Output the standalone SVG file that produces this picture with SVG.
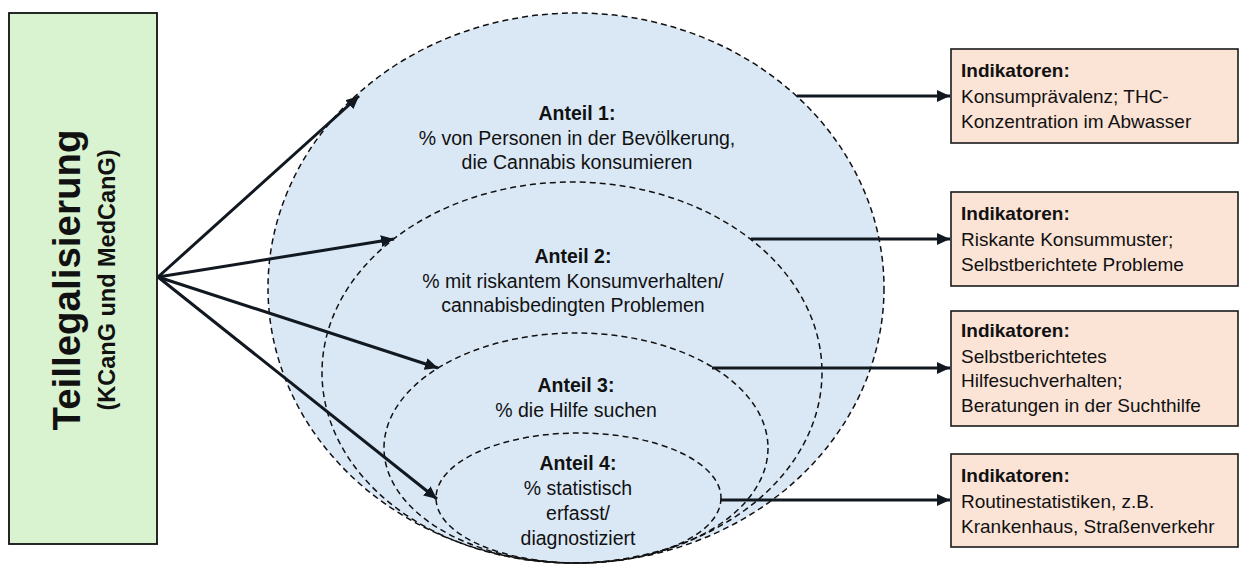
<svg xmlns="http://www.w3.org/2000/svg" width="1244" height="570" viewBox="0 0 1244 570">
<style>
  text { font-family: "Liberation Sans", Arial, sans-serif; fill: #111; }
  .t { font-size: 19px; }
  .e { font-size: 19.5px; }
  .b { font-weight: bold; }
  .c { text-anchor: middle; }
  .ell { fill: none; stroke: #111; stroke-width: 1.5; stroke-dasharray: 6 4; }
  .box { fill: #fbe3d6; stroke: #1a1a1a; stroke-width: 1.6; }
  .arr { stroke: #111820; stroke-width: 3; fill: none; marker-end: url(#ah); }
</style>
<defs>
  <marker id="ah" markerUnits="userSpaceOnUse" markerWidth="14" markerHeight="12" refX="13" refY="6" orient="auto">
    <path d="M0,0 L13,6 L0,12 Z" fill="#111820"/>
  </marker>
</defs>
<rect width="1244" height="570" fill="#ffffff"/>

<g id="source">
  <rect x="9" y="13" width="148" height="531" fill="#d9f2d0" stroke="#111" stroke-width="1.8"/>
  <text class="b c" transform="translate(80,280) rotate(-90)" font-size="38.5">Teillegalisierung</text>
  <text class="b c" transform="translate(115,280) rotate(-90)" font-size="23.5">(KCanG und MedCanG)</text>
</g>

<g id="anteil1">
  <ellipse cx="576" cy="288" rx="308" ry="275" fill="#dae8f6" stroke="#111" stroke-width="1.5" stroke-dasharray="6 4"/>
</g>
<g id="anteil2">
  <ellipse class="ell" cx="572" cy="372.5" rx="250" ry="190.5"/>
</g>
<g id="anteil3">
  <ellipse class="ell" cx="576" cy="448" rx="192" ry="115"/>
</g>
<g id="anteil4">
  <ellipse class="ell" cx="578.5" cy="498" rx="142.5" ry="65"/>
</g>

<g id="connectors">
  <line class="arr" x1="158" y1="277" x2="359" y2="96"/>
  <line class="arr" x1="158" y1="277" x2="394" y2="239"/>
  <line class="arr" x1="158" y1="277" x2="438" y2="368"/>
  <line class="arr" x1="158" y1="277" x2="437" y2="499"/>
  <line class="arr" x1="797" y1="96" x2="950" y2="96"/>
  <line class="arr" x1="751" y1="239" x2="950" y2="239"/>
  <line class="arr" x1="712" y1="368" x2="950" y2="368"/>
  <line class="arr" x1="720" y1="500" x2="950" y2="500"/>
</g>

<g id="anteil1-label">
  <text class="e b c" x="577" y="120">Anteil 1:</text>
  <text class="e c" x="577" y="145">% von Personen in der Bevölkerung,</text>
  <text class="e c" x="577" y="169">die Cannabis konsumieren</text>
</g>
<g id="anteil2-label">
  <text class="e b c" x="573" y="263">Anteil 2:</text>
  <text class="e c" x="573" y="288">% mit riskantem Konsumverhalten/</text>
  <text class="e c" x="573" y="312">cannabisbedingten Problemen</text>
</g>
<g id="anteil3-label">
  <text class="e b c" x="576" y="392">Anteil 3:</text>
  <text class="e c" x="576" y="417">% die Hilfe suchen</text>
</g>
<g id="anteil4-label">
  <text class="e b c" x="578" y="470">Anteil 4:</text>
  <text class="e c" x="578" y="495">% statistisch</text>
  <text class="e c" x="578" y="520">erfasst/</text>
  <text class="e c" x="578" y="545">diagnostiziert</text>
</g>

<g id="ind1">
  <rect class="box" x="951" y="49" width="287" height="94"/>
  <text class="t b" x="961" y="77">Indikatoren:</text>
  <text class="t" x="961" y="103">Konsumprävalenz; THC-</text>
  <text class="t" x="961" y="128">Konzentration im Abwasser</text>
</g>
<g id="ind2">
  <rect class="box" x="951" y="192" width="287" height="94"/>
  <text class="t b" x="961" y="220">Indikatoren:</text>
  <text class="t" x="961" y="246">Riskante Konsummuster;</text>
  <text class="t" x="961" y="271">Selbstberichtete Probleme</text>
</g>
<g id="ind3">
  <rect class="box" x="951" y="311" width="287" height="115"/>
  <text class="t b" x="961" y="337">Indikatoren:</text>
  <text class="t" x="961" y="363">Selbstberichtetes</text>
  <text class="t" x="961" y="387">Hilfesuchverhalten;</text>
  <text class="t" x="961" y="412">Beratungen in der Suchthilfe</text>
</g>
<g id="ind4">
  <rect class="box" x="951" y="454" width="287" height="93"/>
  <text class="t b" x="961" y="482">Indikatoren:</text>
  <text class="t" x="961" y="508">Routinestatistiken, z.B.</text>
  <text class="t" x="961" y="533">Krankenhaus, Straßenverkehr</text>
</g>
</svg>
